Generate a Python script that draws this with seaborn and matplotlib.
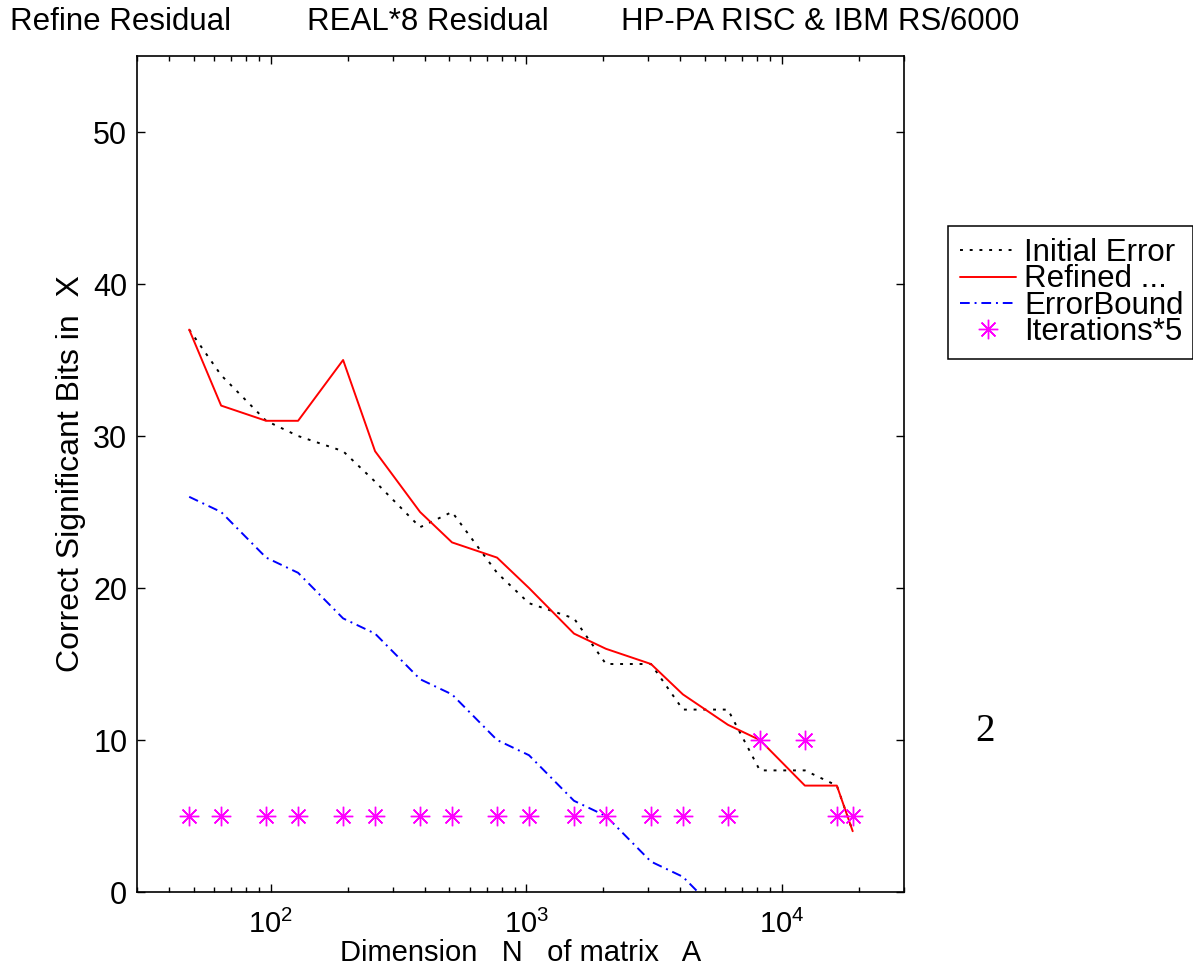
import numpy as np
import pandas as pd
import matplotlib
matplotlib.use("Agg")
import matplotlib.pyplot as plt
from matplotlib.ticker import FixedLocator, FixedFormatter, LogLocator, NullFormatter
import seaborn as sns

# ---------------- data ----------------
dimension_n = [48, 64, 96, 128, 192, 256, 384, 512, 768, 1024, 1536, 2048,
               3072, 4096, 6144, 8192, 12288, 16384, 18900]
initial_error = [37, 34, 31, 30, 29, 27, 24, 25, 21, 19, 18, 15,
                 15, 12, 12, 8, 8, 7, 4]
refined = [37, 32, 31, 31, 35, 29, 25, 23, 22, 20, 17, 16,
           15, 13, 11, 10, 7, 7, 4]
error_bound = [26, 25, 22, 21, 18, 17, 14, 13, 10, 9, 6, 5,
               2, 1, -2, np.nan, np.nan, np.nan, np.nan]
iterations_x5 = [5, 5, 5, 5, 5, 5, 5, 5, 5, 5, 5, 5,
                 5, 5, 5, 10, 10, 5, 5]

series_labels = ["Initial Error", "Refined ...", "ErrorBound", "Iterations*5"]
xtick_values = [100, 1000, 10000]
xtick_labels = [r"$\mathregular{10^{2}}$", r"$\mathregular{10^{3}}$", r"$\mathregular{10^{4}}$"]
ytick_values = [0, 10, 20, 30, 40, 50]
title_parts = ["Refine Residual", "REAL*8 Residual", "HP-PA RISC & IBM RS/6000"]
x_label = "Dimension   N   of matrix   A"
y_label = "Correct Significant Bits in  X"
side_note = "2"

df = pd.DataFrame({
    "N": dimension_n,
    "initial": initial_error,
    "refined": refined,
    "bound": error_bound,
    "iters": iterations_x5,
})

# ---------------- style ----------------
sns.set_theme(style="white")
plt.rcParams["font.family"] = ["Liberation Sans", "DejaVu Sans"]
plt.rcParams["mathtext.fontset"] = "custom"
plt.rcParams["mathtext.rm"] = "Liberation Sans"
plt.rcParams["text.color"] = "black"
plt.rcParams["axes.labelcolor"] = "black"
plt.rcParams["xtick.color"] = "black"
plt.rcParams["ytick.color"] = "black"

W, H = 1193, 972
fig = plt.figure(figsize=(W / 100, H / 100), dpi=100)
ax = fig.add_axes([137 / W, 1 - 892 / H, (904 - 137) / W, (892 - 56) / H])

lw = 1.4
magenta = "#ff00ff"
sns.lineplot(data=df, x="N", y="initial", ax=ax, color="black", lw=lw,
             linestyle=(0, (1.5, 3.5)), estimator=None, sort=False,
             label=series_labels[0])
sns.lineplot(data=df, x="N", y="refined", ax=ax, color="#ff0000", lw=lw,
             linestyle="-", estimator=None, sort=False, label=series_labels[1])
sns.lineplot(data=df.dropna(subset=["bound"]), x="N", y="bound", ax=ax,
             color="#0000ff", lw=lw, linestyle=(0, (5, 2.5, 1, 2.5)),
             estimator=None, sort=False, label=series_labels[2])
sns.lineplot(data=df, x="N", y="iters", ax=ax, color=magenta,
             linestyle="none", marker=(8, 2, 0), markersize=14,
             markeredgewidth=1.0, markeredgecolor=magenta,
             markerfacecolor=magenta,
             estimator=None, sort=False, label=series_labels[3])

ax.set_xscale("log")
ax.set_xlim(30, 30000)
ax.set_ylim(0, 55)

ax.xaxis.set_major_locator(FixedLocator(xtick_values))
ax.xaxis.set_major_formatter(FixedFormatter(xtick_labels))
ax.xaxis.set_minor_locator(LogLocator(base=10, subs=np.arange(2, 10)))
ax.xaxis.set_minor_formatter(NullFormatter())
ax.set_yticks(ytick_values)

ax.tick_params(which="both", direction="in", top=True, right=True,
               bottom=True, left=True, colors="black", width=1.0)
ax.tick_params(which="major", length=6)
ax.tick_params(which="minor", length=3.6)
ax.tick_params(axis="y", labelsize=22, pad=7)
ax.tick_params(axis="x", labelsize=21, pad=12.5)

for sp in ax.spines.values():
    sp.set_color("black")
    sp.set_linewidth(1.2)

ax.set_xlabel(x_label, fontsize=21, color="black")
ax.xaxis.set_label_coords(0.5, -0.056)
ax.set_ylabel(y_label, fontsize=23, color="black")
ax.yaxis.set_label_coords(-0.066, 0.5)

# legend
handles, labels = ax.get_legend_handles_labels()
leg = ax.legend(handles, labels, loc="upper left",
                bbox_to_anchor=(947.7 / W, 0.0, (1192.5 - 947.7) / W, 1 - 225.7 / H),
                bbox_transform=fig.transFigure, mode="expand",
                fontsize=22.5, frameon=True, fancybox=False, framealpha=1,
                borderpad=0.4, labelspacing=-0.12, handlelength=1.8,
                handletextpad=0.25, borderaxespad=0)
leg.get_frame().set_edgecolor("black")
leg.get_frame().set_linewidth(1.1)
for t in leg.get_texts():
    t.set_color("black")

# title pieces
fig.text(10 / W, 1 - 30 / H, title_parts[0], fontsize=22.5, va="baseline", ha="left")
fig.text(307 / W, 1 - 30 / H, title_parts[1], fontsize=22.5, va="baseline", ha="left")
fig.text(621 / W, 1 - 30 / H, title_parts[2], fontsize=22.5, va="baseline", ha="left")

fig.text(985 / W, 1 - 731 / H, side_note, fontsize=28, family="Liberation Serif",
         ha="center", va="center")

fig.savefig("out.png", dpi=100, facecolor="white")
